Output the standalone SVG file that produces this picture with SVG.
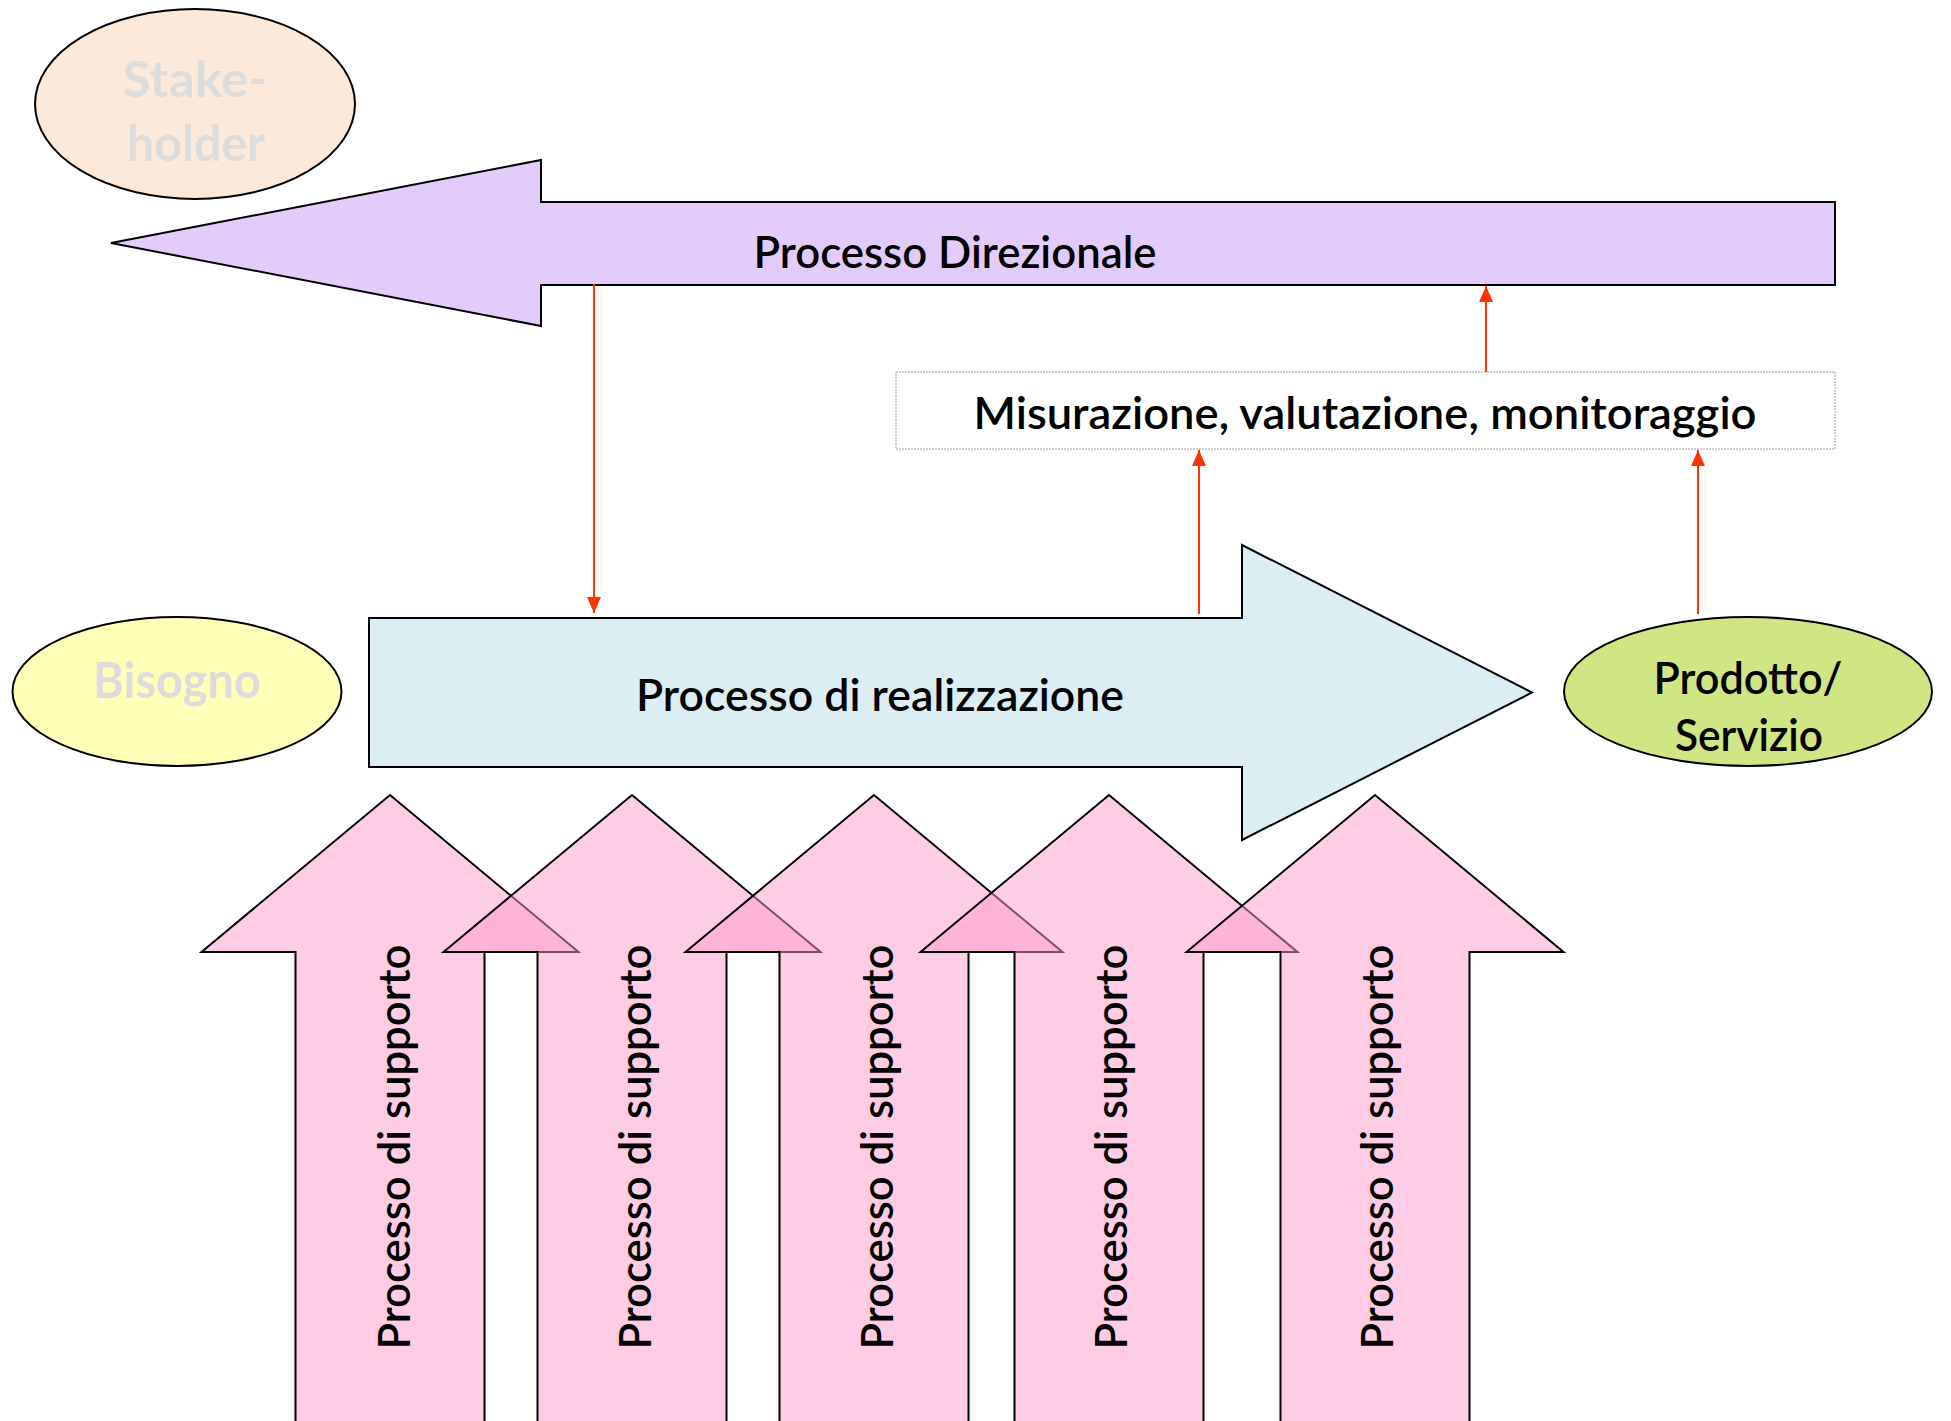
<svg xmlns="http://www.w3.org/2000/svg" xmlns:xlink="http://www.w3.org/1999/xlink" width="1951" height="1421" viewBox="0 0 1951 1421">
  <style>
    .lbl { font-family: Lato, "Noto Sans", "DejaVu Sans", sans-serif; font-size: 44px; font-weight: 600; fill: #000; }
    .faint { font-family: Lato, "Noto Sans", "DejaVu Sans", sans-serif; font-size: 50px; fill: #DCDCDC; font-weight: bold; }
    .shape { stroke: #000; stroke-width: 2; stroke-linejoin: miter; }
    .support { fill: #FF99CC; fill-opacity: 0.5; stroke: #000; stroke-width: 2; }
    .flow { stroke: #FF3300; stroke-width: 2; fill: none; }
  </style>
  <defs>
    <marker id="redTip" viewBox="0 0 16 14" refX="16" refY="7" markerWidth="16" markerHeight="14" markerUnits="userSpaceOnUse" orient="auto">
      <path d="M0,0 L16,7 L0,14 Z" fill="#FF3300"/>
    </marker>
    <!-- upward block arrow, centred on x=0, open at the bottom edge of the page -->
    <path id="upArrow" d="M-94.5,1440 V952 H-188.5 L0,795 L188.5,952 H94.5 V1440"/>
  </defs>

  <rect width="1951" height="1421" fill="#FFFFFF"/>

  <!-- stakeholder -->
  <g id="stakeholder">
    <ellipse cx="195" cy="104" rx="160" ry="95" fill="#FDE9D9" class="shape"/>
    <text class="faint" x="195" y="97" text-anchor="middle" textLength="145" lengthAdjust="spacingAndGlyphs">Stake-</text>
    <text class="faint" x="196" y="161" text-anchor="middle" textLength="138" lengthAdjust="spacingAndGlyphs">holder</text>
  </g>

  <!-- management process: left-pointing block arrow -->
  <g id="processo-direzionale">
    <polygon class="shape" fill="#E3CCFC" points="111,243 541,160 541,202 1835,202 1835,285 541,285 541,326"/>
    <text class="lbl" x="955" y="268" text-anchor="middle" textLength="403" lengthAdjust="spacingAndGlyphs">Processo Direzionale</text>
  </g>

  <!-- measurement box -->
  <g id="misurazione">
    <rect x="896" y="372" width="939" height="77" fill="#FFFFFF" stroke="#9A9A9A" stroke-width="1" stroke-dasharray="2 1"/>
    <text class="lbl" x="1365" y="429" text-anchor="middle" textLength="783" lengthAdjust="spacingAndGlyphs">Misurazione, valutazione, monitoraggio</text>
  </g>

  <!-- need -->
  <g id="bisogno">
    <ellipse cx="177" cy="691.5" rx="164.5" ry="74.5" fill="#FFFFB7" class="shape"/>
    <text class="faint" x="177" y="698" text-anchor="middle" textLength="168" lengthAdjust="spacingAndGlyphs">Bisogno</text>
  </g>

  <!-- delivery process: right-pointing block arrow -->
  <g id="processo-realizzazione">
    <polygon class="shape" fill="#DAEEF3" points="369,618 1242,618 1242,545 1532,692.5 1242,840 1242,767 369,767"/>
    <text class="lbl" x="880" y="711" text-anchor="middle" textLength="488" lengthAdjust="spacingAndGlyphs">Processo di realizzazione</text>
  </g>

  <!-- product / service -->
  <g id="prodotto">
    <ellipse cx="1748" cy="691.5" rx="184" ry="74.5" fill="#D0E584" class="shape"/>
    <text class="lbl" x="1748" y="694" text-anchor="middle" textLength="189" lengthAdjust="spacingAndGlyphs">Prodotto/</text>
    <text class="lbl" x="1749" y="751" text-anchor="middle" textLength="148" lengthAdjust="spacingAndGlyphs">Servizio</text>
  </g>

  <!-- support processes: five upward block arrows, later ones drawn over earlier ones -->
  <g id="supporto-1">
    <use xlink:href="#upArrow" class="support" transform="translate(390,0)"/>
    <text class="lbl" transform="translate(410,1147) rotate(-90)" text-anchor="middle" textLength="405" lengthAdjust="spacingAndGlyphs">Processo di supporto</text>
  </g>
  <g id="supporto-2">
    <use xlink:href="#upArrow" class="support" transform="translate(632,0)"/>
    <text class="lbl" transform="translate(651,1147) rotate(-90)" text-anchor="middle" textLength="405" lengthAdjust="spacingAndGlyphs">Processo di supporto</text>
  </g>
  <g id="supporto-3">
    <use xlink:href="#upArrow" class="support" transform="translate(874,0)"/>
    <text class="lbl" transform="translate(893,1147) rotate(-90)" text-anchor="middle" textLength="405" lengthAdjust="spacingAndGlyphs">Processo di supporto</text>
  </g>
  <g id="supporto-4">
    <use xlink:href="#upArrow" class="support" transform="translate(1109,0)"/>
    <text class="lbl" transform="translate(1127,1147) rotate(-90)" text-anchor="middle" textLength="405" lengthAdjust="spacingAndGlyphs">Processo di supporto</text>
  </g>
  <g id="supporto-5">
    <use xlink:href="#upArrow" class="support" transform="translate(1375,0)"/>
    <text class="lbl" transform="translate(1393,1147) rotate(-90)" text-anchor="middle" textLength="405" lengthAdjust="spacingAndGlyphs">Processo di supporto</text>
  </g>

  <!-- red flow connectors -->
  <g id="connectors">
    <line class="flow" x1="594" y1="284" x2="594" y2="613" marker-end="url(#redTip)"/>
    <line class="flow" x1="1199" y1="614" x2="1199" y2="450" marker-end="url(#redTip)"/>
    <line class="flow" x1="1698" y1="614" x2="1698" y2="450" marker-end="url(#redTip)"/>
    <line class="flow" x1="1486" y1="372" x2="1486" y2="286" marker-end="url(#redTip)"/>
  </g>
</svg>
